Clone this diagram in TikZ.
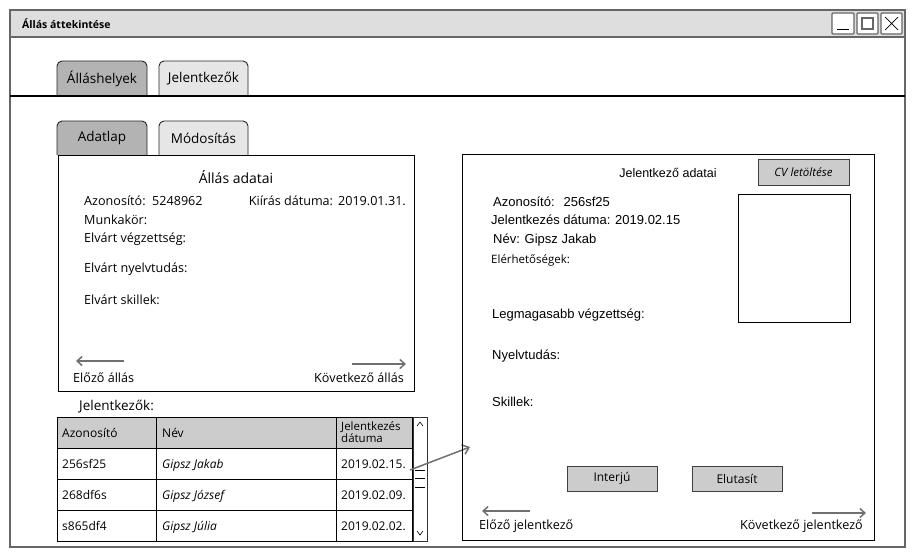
\documentclass[tikz,border=0pt]{standalone}
\usepackage{fontspec}
\setmainfont{Liberation Sans}
\newfontfamily\comic{Open Sans}
\usetikzlibrary{arrows.meta}
\definecolor{winline}{HTML}{666666}
\definecolor{titlefill}{HTML}{DEDEDE}
\definecolor{tabdark}{HTML}{B3B3B3}
\definecolor{tablight}{HTML}{E6E6E6}
\definecolor{btnfill}{HTML}{CCCCCC}
\definecolor{arrowgrey}{HTML}{707070}
\tikzset{
  box/.style={draw=black, line width=0.9pt},
  tabshape/.style={draw=black!85, line width=0.9pt, rounded corners=5pt},
  lbl/.style={inner sep=0pt, anchor=base west, font=\comic\fontsize{12.6}{14}\selectfont},
  albl/.style={inner sep=0pt, anchor=base west, font=\fontsize{13}{15}\selectfont},
  btn/.style={draw=black!75, line width=0.9pt, fill=btnfill, inner sep=0pt},
  navarrow/.style={draw=arrowgrey, line width=1.5pt, -{Straight Barb[length=5pt,width=9pt]}},
  cell/.style={inner sep=0pt, anchor=base west, font=\comic\fontsize{12}{13}\selectfont},
}
\begin{document}
\begin{tikzpicture}[x=1pt,y=-1pt]
\useasboundingbox (0,0) rectangle (915,558);
% window
\draw[draw=winline, line width=1.6pt, fill=white] (10,10) rectangle (905,547);
\draw[draw=winline, line width=1.4pt, fill=titlefill] (10,10) rectangle (905,37);
\node[inner sep=0pt, anchor=base west, font=\comic\bfseries\fontsize{10.5}{12}\selectfont] (title) at (22,28) {Állás áttekintése};
% window buttons
\draw[draw=winline, line width=1.2pt, fill=white, rounded corners=1pt] (832,13) rectangle (854,34);
\draw[line width=0.9pt] (837,29) -- (849,29);
\draw[draw=winline, line width=1.2pt, fill=white, rounded corners=1pt] (857,13) rectangle (878,34);
\draw[draw=winline, line width=1.1pt] (862,18) rectangle (873,29);
\draw[draw=winline, line width=1.2pt, fill=white, rounded corners=1pt] (881,13) rectangle (902,34);
\draw[line width=0.7pt] (885,17) -- (898,30) (898,17) -- (885,30);
% main tabs
\draw[tabshape, fill=tabdark] (57,96) -- (57,61) -- (147,61) -- (147,96);
\node[inner sep=0pt, font=\comic\fontsize{13.5}{15}\selectfont] (tab1) at (102,79) {Álláshelyek};
\draw[tabshape, fill=tablight] (159,96) -- (159,61) -- (248,61) -- (248,96);
\node[inner sep=0pt, font=\comic\fontsize{13.5}{15}\selectfont] (tab2) at (203.5,79) {Jelentkezők};
\draw[line width=1.1pt] (10,96) -- (905,96);
% sub tabs
\draw[tabshape, fill=tabdark] (57,155) -- (57,121) -- (147,121) -- (147,155);
\node[inner sep=0pt, font=\comic\fontsize{13.5}{15}\selectfont] (tab3) at (102,138) {Adatlap};
\draw[tabshape, fill=tablight] (159,155) -- (159,121) -- (248,121) -- (248,155);
\node[inner sep=0pt, font=\comic\fontsize{13.5}{15}\selectfont] (tab4) at (203.5,138) {Módosítás};
% left panel
\draw[box] (58,155) rectangle (414,391);
\node[inner sep=0pt, font=\comic\fontsize{14}{16}\selectfont] (lhead) at (236,177) {Állás adatai};
\node[lbl] (lid) at (84,205.5) {Azonosító:};
\node[lbl] (lidv) at (152,205.5) {5248962};
\node[lbl, anchor=base east] (ldate) at (406,205.5) {Kiírás dátuma:\hspace{5pt}2019.01.31.};
\node[lbl] (lmun) at (84,224) {Munkakör:};
\node[lbl] (lveg) at (84,242) {Elvárt végzettség:};
\node[lbl] (lnyelv) at (84,272) {Elvárt nyelvtudás:};
\node[lbl] (lskill) at (84,304) {Elvárt skillek:};
\coordinate (lpa) at (124,361);
\coordinate (lpb) at (76,361);
\draw[navarrow] (lpa) -- (lpb);
\node[lbl] (lprev) at (73,382) {Előző állás};
\coordinate (lna) at (352,364);
\coordinate (lnb) at (406,364);
\draw[navarrow] (lna) -- (lnb);
\node[lbl, anchor=base east] (lnext) at (404,382) {Következő állás};
% applicants table
\node[inner sep=0pt, anchor=base west, font=\comic\fontsize{13.5}{15}\selectfont] (jlbl) at (79,410) {Jelentkezők:};
\fill[btnfill] (57,417) rectangle (412,448);
\draw[box] (57,417) rectangle (412,541);
\draw[line width=0.9pt] (57,448) -- (412,448) (57,479) -- (412,479) (57,510) -- (412,510);
\draw[line width=0.9pt] (156,417) -- (156,541) (336,417) -- (336,541);
\node[cell] (h1) at (62,437.5) {Azonosító};
\node[cell] (h2) at (162,437.5) {Név};
\node[inner sep=0pt, anchor=west, align=left, font=\comic\fontsize{11.5}{10}\selectfont] (h3) at (341,432) {Jelentkezés\\dátuma};
\node[cell] (r1a) at (62,468.5) {256sf25};
\node[cell] (r1b) at (162,468.5) {\itshape Gipsz Jakab};
\node[cell] (r1c) at (341,468.5) {2019.02.15.};
\node[cell] (r2a) at (62,499.5) {268df6s};
\node[cell] (r2b) at (162,499.5) {\itshape Gipsz József};
\node[cell] (r2c) at (341,499.5) {2019.02.09.};
\node[cell] (r3a) at (62,530) {s865df4};
\node[cell] (r3b) at (162,530) {\itshape Gipsz Júlia};
\node[cell] (r3c) at (341,530) {2019.02.02.};
% scrollbar
\draw[draw=black!80, line width=0.9pt, fill=white] (413,417) rectangle (427,541);
\draw[line width=0.6pt] (417,426) -- (420,422) -- (423,426);
\draw[line width=0.6pt] (417,531) -- (420,535) -- (423,531);
\draw[line width=0.7pt] (415,470) -- (425,470) (415,478) -- (425,478) (415,487) -- (425,487);
% link arrow
\coordinate (linka) at (410,470);
\coordinate (linkb) at (470,447);
\draw[draw=arrowgrey, line width=1.5pt, -{Straight Barb[length=6pt,width=10pt]}] (linka) -- (linkb);
% right panel
\draw[box] (462,154) rectangle (874,540);
\node[inner sep=0pt, font=\fontsize{12.5}{14}\selectfont] (rhead) at (668,173) {Jelentkező adatai};
\node[btn, minimum width=91pt, minimum height=26pt, font=\comic\itshape\fontsize{11.5}{13}\selectfont] (cv) at (803.5,172) {CV letöltése};
\draw[box] (738,194) rectangle (850,322);
\node[albl] (rid) at (493,206.5) {Azonosító:\hspace{9pt}256sf25};
\node[albl] (rdate) at (491,224.5) {Jelentkezés dátuma: 2019.02.15};
\node[albl] (rname) at (493,243.5) {Név: Gipsz Jakab};
\node[lbl, font=\comic\fontsize{11.5}{13}\selectfont] (rcont) at (491,263) {Elérhetőségek:};
\node[albl] (redu) at (492,318.5) {Legmagasabb végzettség:};
\node[albl] (rlang) at (492,359.5) {Nyelvtudás:};
\node[albl] (rskill) at (492,406.5) {Skillek:};
\node[btn, minimum width=90pt, minimum height=25pt, font=\comic\fontsize{12}{13}\selectfont] (interju) at (612,478.5) {Interjú};
\node[btn, minimum width=90pt, minimum height=25pt, font=\comic\fontsize{12}{13}\selectfont] (elut) at (737,478.5) {Elutasít};
\coordinate (rpa) at (530,511);
\coordinate (rpb) at (482,511);
\draw[navarrow] (rpa) -- (rpb);
\node[lbl] (rprev) at (479,529.5) {Előző jelentkező};
\coordinate (rna) at (812,513);
\coordinate (rnb) at (866,513);
\draw[navarrow] (rna) -- (rnb);
\node[lbl, anchor=base east] (rnext) at (863,529.5) {Következő jelentkező};
\end{tikzpicture}
\end{document}
